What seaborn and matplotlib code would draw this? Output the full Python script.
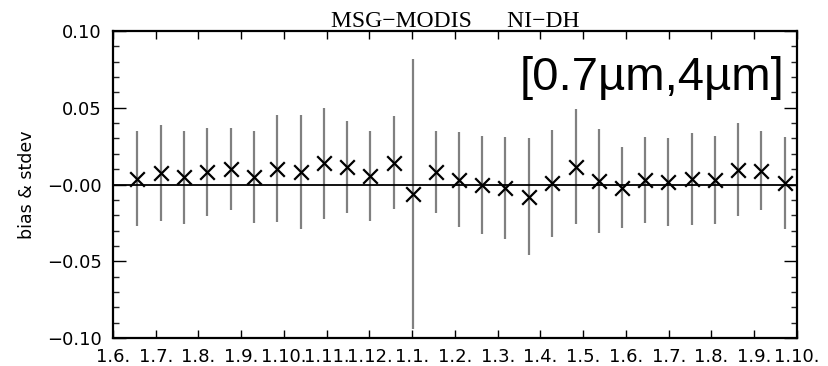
import matplotlib
matplotlib.use("Agg")
import matplotlib.pyplot as plt
import seaborn as sns
import pandas as pd
from matplotlib.ticker import FixedLocator, MultipleLocator

# Time axis in months counted from 1 June (tick k = first day of month k)
month_labels = ["1.6.", "1.7.", "1.8.", "1.9.", "1.10.", "1.11.", "1.12.", "1.1.",
                "1.2.", "1.3.", "1.4.", "1.5.", "1.6.", "1.7.", "1.8.", "1.9.", "1.10."]

# Composite periods (position in months since 1.6.)
period_pos = [0.568, 1.116, 1.661, 2.199, 2.753, 3.298, 3.843, 4.391, 4.936, 5.474,
              6.019, 6.566, 7.02, 7.549, 8.087, 8.632, 9.177, 9.724, 10.276, 10.823,
              11.361, 11.906, 12.444, 12.989, 13.537, 14.075, 14.627, 15.158, 15.712]

# Mean bias MSG - MODIS (NI-DH) and its standard deviation
bias = [0.0039, 0.0074, 0.0048, 0.0084, 0.0103, 0.0050, 0.0104, 0.0083, 0.0137, 0.0112,
        0.0055, 0.0142, -0.0063, 0.0080, 0.0031, -0.0002, -0.0025, -0.0079, 0.0007, 0.0117,
        0.0024, -0.0020, 0.0028, 0.0016, 0.0037, 0.0029, 0.0097, 0.0091, 0.0010]
stdev = [0.0307, 0.0314, 0.0303, 0.0286, 0.0268, 0.0299, 0.0346, 0.0371, 0.0362, 0.0299,
         0.0291, 0.0303, 0.0880, 0.0267, 0.0310, 0.0319, 0.0333, 0.0380, 0.0349, 0.0372,
         0.0337, 0.0264, 0.0282, 0.0284, 0.0301, 0.0284, 0.0301, 0.0258, 0.0301]

y_ticks = [-0.10, -0.05, 0.0, 0.05, 0.10]
y_ticklabels = ["\u22120.10", "\u22120.05", "\u22120.00", "0.05", "0.10"]

df = pd.DataFrame({"t": period_pos, "bias": bias, "stdev": stdev})
df["lo"] = df["bias"] - df["stdev"]
df["hi"] = df["bias"] + df["stdev"]

sns.set_theme(style="ticks")
plt.rcParams["font.family"] = ["DejaVu Sans"]

fig = plt.figure(figsize=(8.29, 3.66), dpi=100)
ax = fig.add_axes([113 / 829, 1 - 338 / 366, 684 / 829, 307 / 366])

# standard deviation bars
ax.vlines(df["t"], df["lo"], df["hi"], color="#808080", linewidth=1.6, zorder=1)
# zero reference
ax.axhline(0.0, color="black", linewidth=1.3, zorder=2)
# bias crosses
sns.scatterplot(data=df, x="t", y="bias", marker="x", color="black", s=110,
                linewidth=1.6, ax=ax, zorder=3, legend=False)

ax.set_xlim(0, 16)
ax.set_ylim(-0.10, 0.10)
ax.xaxis.set_major_locator(FixedLocator(range(len(month_labels))))
ax.set_xticklabels(month_labels)
ax.yaxis.set_major_locator(FixedLocator(y_ticks))
ax.set_yticklabels(y_ticklabels)
ax.yaxis.set_minor_locator(MultipleLocator(0.01))

ax.tick_params(axis="x", which="major", direction="in", length=5.5, width=1.0,
               top=True, bottom=True, labelsize=13, pad=7, colors="black")
ax.tick_params(axis="y", which="major", direction="in", length=9.5, width=1.0,
               left=True, right=True, labelsize=13, pad=8, colors="black")
ax.tick_params(axis="y", which="minor", direction="in", length=4.5, width=1.0,
               left=True, right=True)
for sp in ax.spines.values():
    sp.set_visible(True)
    sp.set_linewidth(1.6)
    sp.set_color("black")

ax.set_xlabel("")
ax.set_ylabel("bias & stdev", fontsize=12.5, labelpad=8, color="black")
ax.set_title("MSG\u2212MODIS      NI\u2212DH", family=["Liberation Serif"],
             fontsize=17, pad=3, color="black")

ax.text(0.982, 0.808, "[0.7\u00b5m,4\u00b5m]", transform=ax.transAxes,
        ha="right", va="baseline", fontsize=34, family=["Liberation Sans"],
        color="black")

fig.savefig("out.png", dpi=100)
